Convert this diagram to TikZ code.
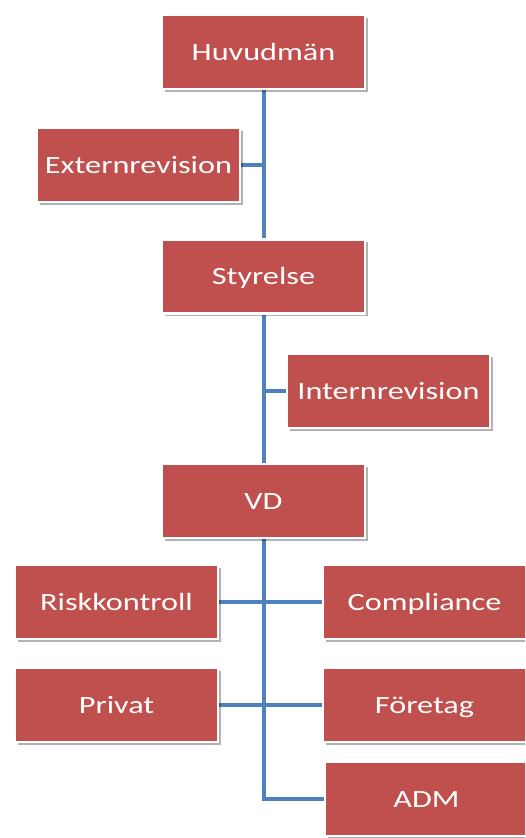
\documentclass[tikz,border=0pt]{standalone}
\usepackage{fontspec}
\setmainfont{Carlito}
\usetikzlibrary{shadows,backgrounds}
\definecolor{boxred}{HTML}{C0504D}
\definecolor{lineblue}{HTML}{4F81BD}
\newcommand{\wide}[1]{\scalebox{1.3}[1]{#1}}
\tikzset{
  orgbox/.style={rectangle, fill=boxred, draw=white, line width=2.5pt,
    minimum width=203pt, minimum height=74pt, inner sep=0pt,
    text height=20pt, text depth=4pt,
    text=white, font=\fontsize{24.8}{28}\selectfont,
    drop shadow={shadow xshift=2.5pt, shadow yshift=-2.5pt, fill=black, opacity=0.3}},
  link/.style={draw=lineblue, line width=3.2pt}
}
\begin{document}
\begin{tikzpicture}[x=1pt,y=-1pt]
\clip (0,0) rectangle (525,838);
\node[orgbox] (huv) at (263.5,52) {\wide{Huvudmän}};
\node[orgbox] (ext) at (138.5,165) {\wide{Externrevision}};
\node[orgbox] (sty) at (263.5,276.5) {\wide{Styrelse}};
\node[orgbox] (int) at (388.5,391) {\wide{Internrevision}};
\node[orgbox] (vd) at (263.5,501) {\wide{VD}};
\node[orgbox] (risk) at (116.5,602) {\wide{Riskkontroll}};
\node[orgbox] (comp) at (424.5,602) {\wide{Compliance}};
\node[orgbox] (priv) at (116.5,705) {\wide{Privat}};
\node[orgbox] (fore) at (424.5,705) {\wide{Företag}};
\node[orgbox] (adm) at (426.5,799) {\wide{ADM}};
\coordinate (t1) at (264,165);
\coordinate (t2) at (264,391);
\coordinate (t3) at (264,799);
\begin{pgfonlayer}{background}
\fill[white] (0,0) rectangle (525,838);
\draw[link] (huv.south -| t1) -- (vd.north -| t1);
\draw[link] (ext.east) -- (t1);
\draw[link] (int.west) -- (t2);
\draw[link] (vd.south -| t3) -- (t3) -- (adm.west);
\draw[link] (risk.east) -- (comp.west);
\draw[link] (priv.east) -- (fore.west);
\end{pgfonlayer}
\end{tikzpicture}
\end{document}
